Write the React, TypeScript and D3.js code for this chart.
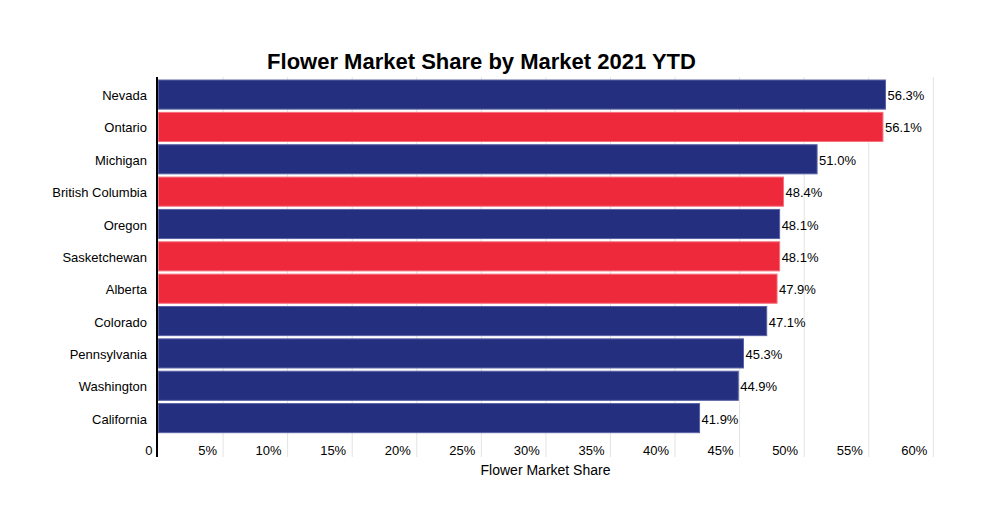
import React from "react";
import * as d3 from "d3";

const markets = [
  "Nevada",
  "Ontario",
  "Michigan",
  "British Columbia",
  "Oregon",
  "Sasketchewan",
  "Alberta",
  "Colorado",
  "Pennsylvania",
  "Washington",
  "California",
];
const shares = [0.563, 0.561, 0.51, 0.484, 0.481, 0.481, 0.479, 0.471, 0.453, 0.449, 0.419];
const canadian = [false, true, false, true, false, true, true, false, false, false, false];
const tickValues = [0, 0.05, 0.1, 0.15, 0.2, 0.25, 0.3, 0.35, 0.4, 0.45, 0.5, 0.55, 0.6];

const W = 983;
const H = 527;
const font = "'Liberation Sans', Arial, sans-serif";

export default function App() {
  const x = d3.scaleLinear().domain([0, 0.6]).range([158.5, 933.3]);
  const y = d3
    .scaleBand()
    .domain(markets)
    .range([78.4, 434.3])
    .paddingInner(0.1)
    .paddingOuter(0.05);

  const top = 77;
  const bottom = 457;
  const pct = d3.format(".1%");

  return (
    <svg
      width={W}
      height={H}
      style={{ position: "absolute", left: 0, top: 0, fontFamily: font }}
    >
      <rect width={W} height={H} fill="#fff" />
      <text
        x={481.5}
        y={69}
        textAnchor="middle"
        fontSize={22}
        fontWeight="bold"
        fill="#000"
      >
        Flower Market Share by Market 2021 YTD
      </text>

      {/* gridlines */}
      {tickValues.slice(1).map((t) => (
        <line
          key={t}
          x1={x(t)}
          x2={x(t)}
          y1={top}
          y2={bottom}
          stroke="#e3e3e3"
          strokeWidth={1}
        />
      ))}

      {/* bars */}
      {markets.map((m, i) => (
        <g key={m}>
          <rect
            x={x(0)}
            y={y(m)}
            width={x(shares[i]) - x(0)}
            height={y.bandwidth()}
            fill={canadian[i] ? "#ee293b" : "#242f80"}
            stroke={canadian[i] ? "#f4707b" : "#5a62a3"}
            strokeWidth={1}
          />
          <text
            x={x(shares[i]) + 2}
            y={(y(m) ?? 0) + y.bandwidth() / 2 + 1}
            dy="0.35em"
            fontSize={13}
            fill="#000"
          >
            {pct(shares[i])}
          </text>
          <text
            x={147}
            y={(y(m) ?? 0) + y.bandwidth() / 2 + 1}
            dy="0.35em"
            textAnchor="end"
            fontSize={13}
            fill="#000"
          >
            {m}
          </text>
        </g>
      ))}

      {/* y axis line */}
      <line x1={157} x2={157} y1={top} y2={bottom} stroke="#000" strokeWidth={2} />

      {/* x tick labels */}
      {tickValues.map((t) => (
        <text
          key={t}
          x={x(t) - 6}
          y={450}
          dy="0.35em"
          textAnchor="end"
          fontSize={13}
          fill="#000"
        >
          {t === 0 ? "0" : d3.format(".0%")(t)}
        </text>
      ))}

      <text x={545.5} y={475} textAnchor="middle" fontSize={14} fill="#000">
        Flower Market Share
      </text>
    </svg>
  );
}
